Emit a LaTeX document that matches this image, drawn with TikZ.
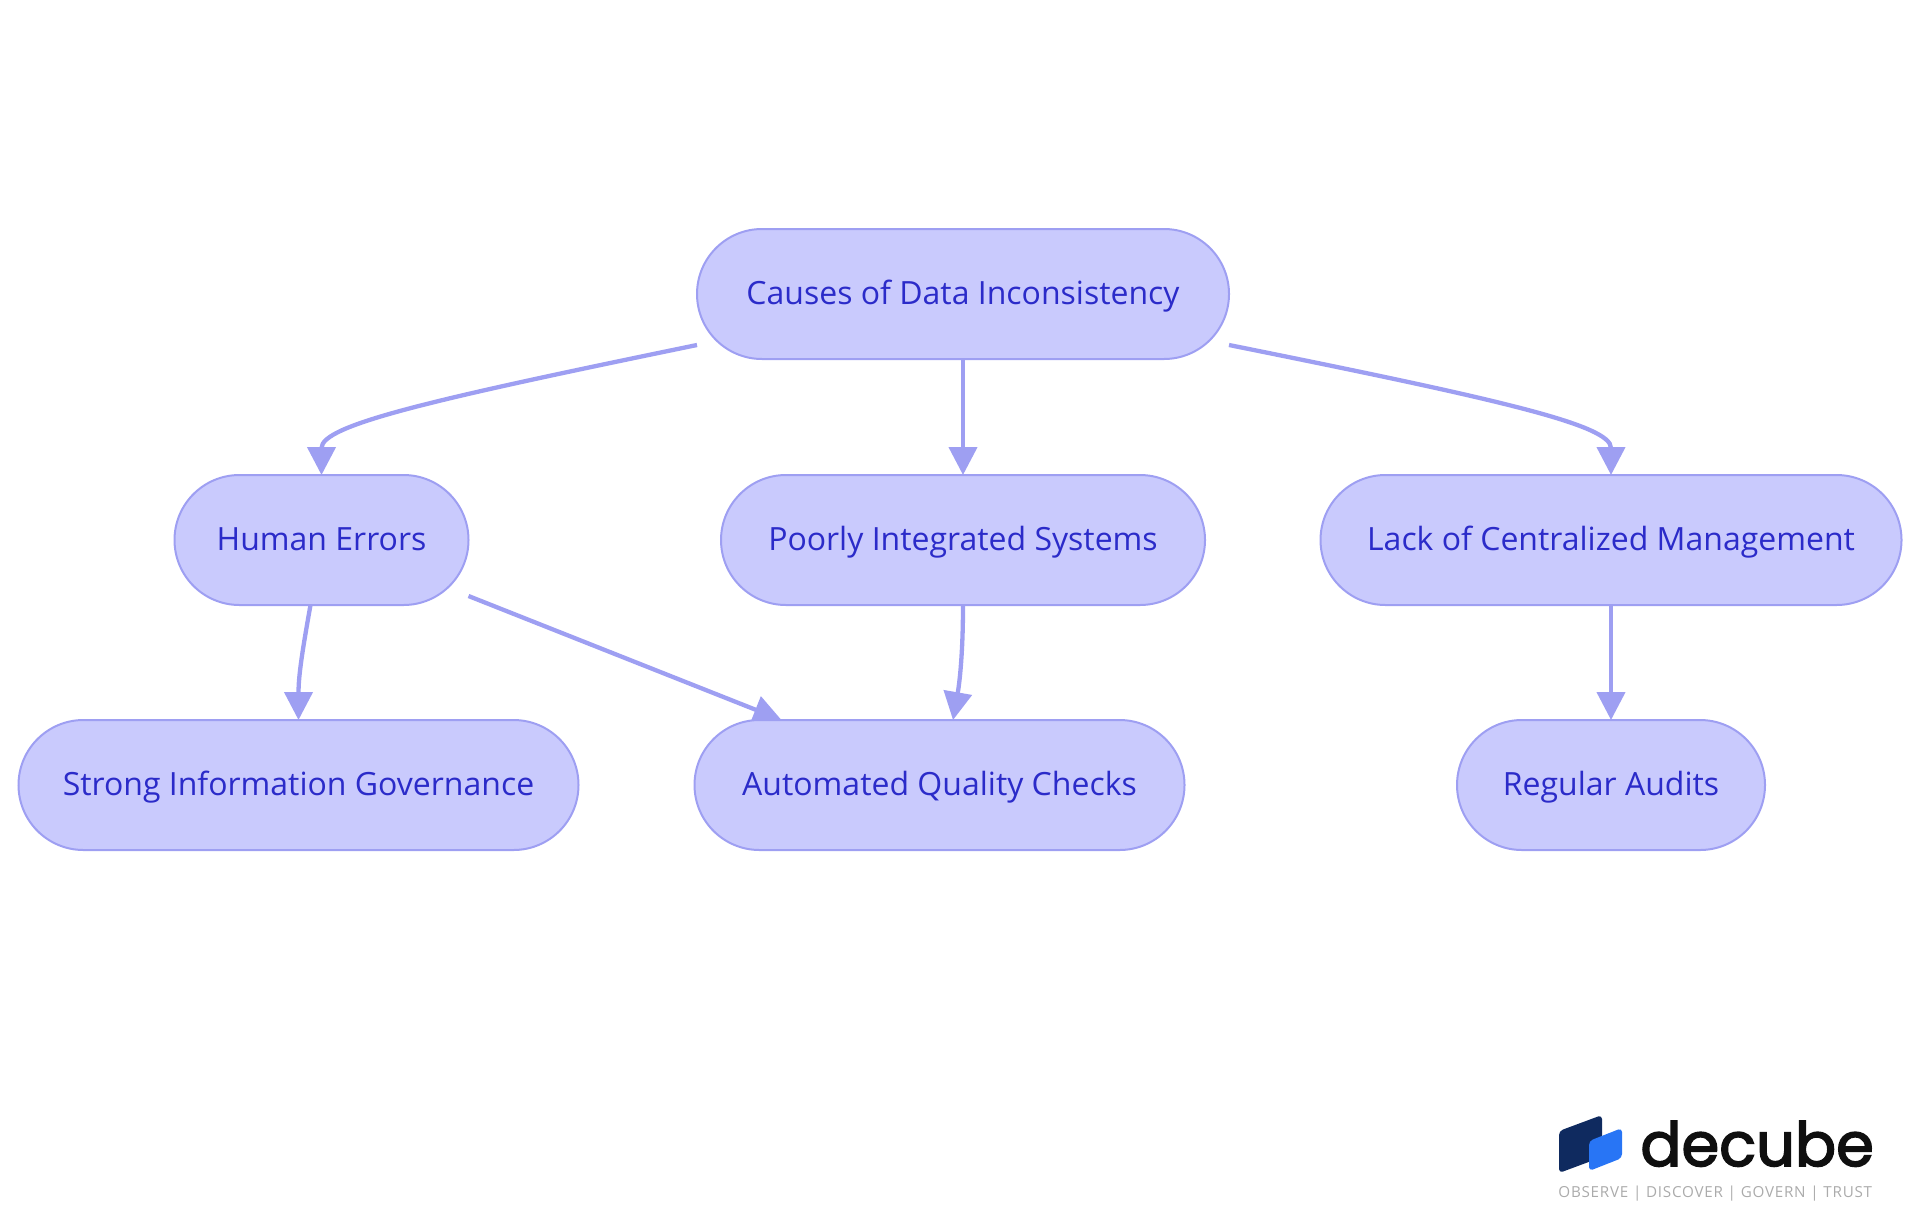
\documentclass[tikz,border=0pt]{standalone}
\usepackage{fontspec}
\setmainfont{Open Sans}
\newfontfamily\logofont[FakeBold=2.6]{Poppins}
\usetikzlibrary{arrows.meta, backgrounds, shapes.misc}
\definecolor{boxfill}{HTML}{C9CAFD}
\definecolor{boxline}{HTML}{9E9FF2}
\definecolor{boxtext}{HTML}{2B2BC9}
\definecolor{logodark}{HTML}{0F2A5F}
\definecolor{logoblue}{HTML}{2875F5}
\definecolor{logotext}{HTML}{0F0F0F}
\definecolor{logogrey}{HTML}{ABABAB}

\begin{document}
\begin{tikzpicture}[x=0.5pt,y=-0.5pt]
\tikzset{
  cause/.style={draw=boxline, fill=boxfill, text=boxtext, line width=1pt, rounded rectangle,
    minimum height=65pt, inner sep=0pt, outer sep=0pt, text height=13pt, text depth=3pt,
    font=\fontsize{16}{18}\selectfont},
  link/.style={draw=boxline, line width=2.15pt, -{Triangle[length=14pt,width=14pt]}}
}
\useasboundingbox (0,0) rectangle (1920,1215);

\node[cause, minimum width=266pt] (causes) at (963,294) {Causes of Data Inconsistency};

\node[cause, minimum width=147pt] (human) at (321.5,540) {Human Errors};
\node[cause, minimum width=242pt] (poorly) at (963,540) {Poorly Integrated Systems};
\node[cause, minimum width=290.5pt] (lack) at (1611,540) {Lack of Centralized Management};

\node[cause, minimum width=280pt] (strong) at (298.5,785) {Strong Information Governance};
\node[cause, minimum width=245pt] (automated) at (939.5,785) {Automated Quality Checks};
\node[cause, minimum width=154pt] (regular) at (1611,785) {Regular Audits};

\begin{scope}[on background layer]
\draw[link] ([yshift=-25.5pt]causes.west) .. controls +(-267,55) and +(0,-50) .. (human.north);
\draw[link] (causes.south) -- (poorly.north);
\draw[link] ([yshift=-25.5pt]causes.east) .. controls +(273,55) and +(0,-50) .. (lack.north);
\draw[link] ([xshift=-5.5pt]human.south) .. controls +(-8,45) and +(0,-45) .. (strong.north);
\draw[link] ([yshift=-28pt]human.east) -- ([xshift=-79pt]automated.north);
\draw[link] (poorly.south) .. controls +(0,45) and +(7,-40) .. ([xshift=6.75pt]automated.north);
\draw[link] (lack.south) -- (regular.north);
\end{scope}

% logo
\fill[logodark, rounded corners=2pt] (1559,1131) -- (1602,1115) -- (1602,1157) -- (1559,1173) -- cycle;
\fill[logoblue, rounded corners=2pt] (1589,1141) -- (1622,1128) -- (1622,1158) -- (1589,1171) -- cycle;
\node[anchor=base west, inner sep=0pt, text=logotext] (brand) at (1640,1166) {\logofont\fontsize{30.4}{36}\selectfont decube};
\node[anchor=base west, inner sep=0pt, text=logogrey] (motto) at (1558,1197) {\addfontfeature{LetterSpace=5}\fontsize{7.6}{9}\selectfont OBSERVE | DISCOVER | GOVERN | TRUST};
\end{tikzpicture}
\end{document}
